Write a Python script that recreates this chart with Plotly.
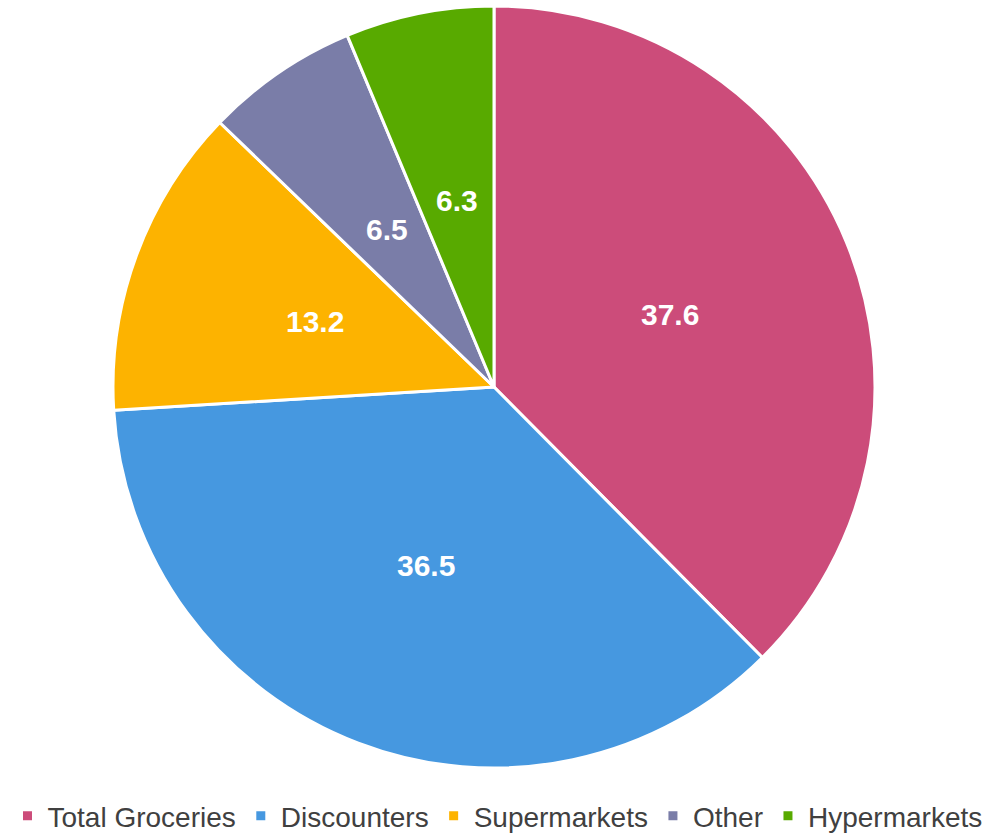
import math
import plotly.graph_objects as go

# Share of grocery sales by channel
channels = ["Total Groceries", "Discounters", "Supermarkets", "Other", "Hypermarkets"]
shares = [37.6, 36.5, 13.2, 6.5, 6.3]
colors = ["#CC4C7A", "#4698E0", "#FDB300", "#7A7DA8", "#58AA00"]

W, H = 995, 836
# pie placement in pixels (centre and radius)
cx, cy, R = 494, 387, 381

fig = go.Figure(
    go.Pie(
        labels=channels,
        values=shares,
        sort=False,
        direction="clockwise",
        rotation=0,
        marker=dict(colors=colors, line=dict(color="white", width=3)),
        textinfo="none",
        hoverinfo="label+value",
        domain=dict(x=[(cx - R) / W, (cx + R) / W], y=[1 - (cy + R) / H, 1 - (cy - R) / H]),
    )
)

# value labels sit halfway out along each slice's mid-angle
total = sum(shares)
acc = 0.0
annotations = []
for v in shares:
    mid = (acc + v / 2) / total * 2 * math.pi  # clockwise from 12 o'clock
    acc += v
    px = cx + 0.5 * R * math.sin(mid)
    py = cy - 0.5 * R * math.cos(mid)
    annotations.append(
        dict(
            x=px / W,
            y=1 - py / H,
            xref="paper",
            yref="paper",
            text=f"<b>{v}</b>",
            showarrow=False,
            xanchor="center",
            yanchor="middle",
            font=dict(family="Liberation Sans, Arial, sans-serif", size=30, color="white"),
        )
    )

fig.update_layout(
    width=W,
    height=H,
    margin=dict(l=0, r=0, t=0, b=0, autoexpand=False),
    paper_bgcolor="white",
    plot_bgcolor="white",
    showlegend=True,
    annotations=annotations,
    legend=dict(
        orientation="h",
        x=0.5,
        xanchor="center",
        y=-0.006,
        yanchor="bottom",
        font=dict(family="Liberation Sans, Arial, sans-serif", size=28, color="#404040"),
    ),
)

fig.write_html("out.html")
